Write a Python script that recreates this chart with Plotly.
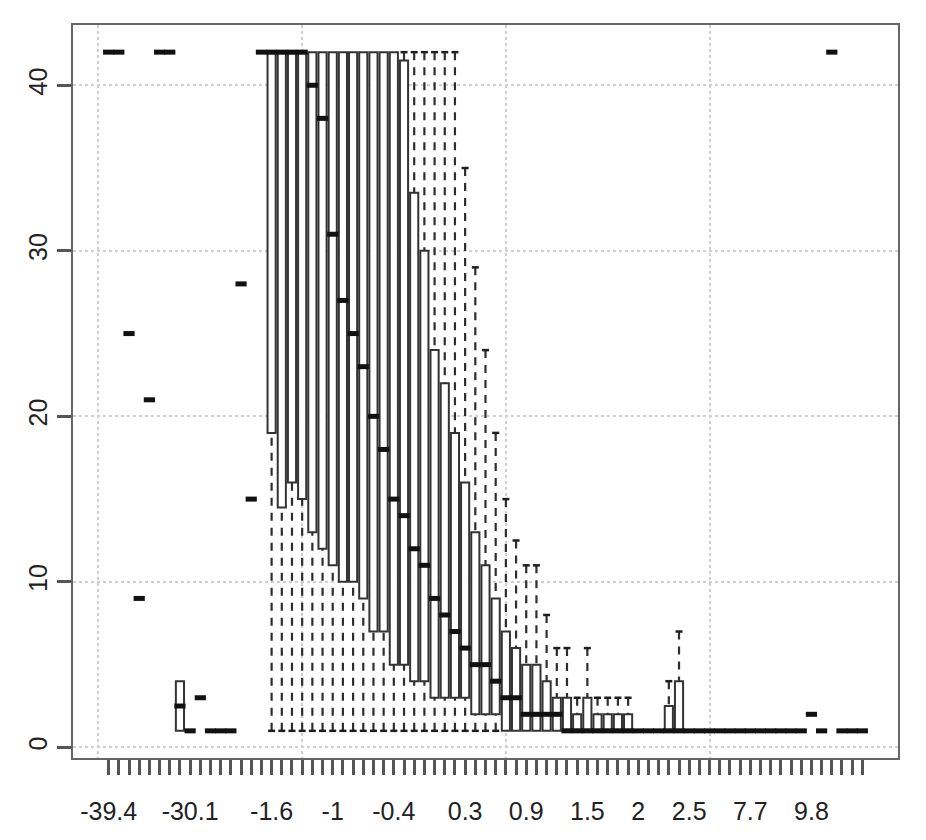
import plotly.graph_objects as go

# ---- data ----
categories = [-39.4, -38.6, -37.2, -36.5, -35.0, -33.8, -32.1, -31.4, -30.1, -27.9,
              -24.6, -19.3, -12.7, -7.5, -3.8, -2.2,
              -1.6, -1.5, -1.4, -1.3, -1.2, -1.1, -1.0, -0.9, -0.8, -0.7,
              -0.6, -0.5, -0.4, -0.3, -0.2, -0.1, 0.0, 0.1, 0.2, 0.3,
              0.4, 0.5, 0.6, 0.7, 0.8, 0.9, 1.0, 1.1, 1.2, 1.3,
              1.4, 1.5, 1.6, 1.7, 1.8, 1.9, 2.0, 2.1, 2.2, 2.3, 2.4, 2.5,
              2.7, 3.1, 3.6, 4.8, 6.2, 7.7, 8.1, 8.5, 8.9, 9.2, 9.5, 9.8,
              10.6, 11.9, 13.4, 15.2, 18.7]

shown_labels = ["-39.4", "-30.1", "-1.6", "-1", "-0.4", "0.3", "0.9",
                "1.5", "2", "2.5", "7.7", "9.8"]

lower = [42, 42, 25, 9, 21, 42, 42, 1, 1, 3, 1, 1, 1, 28, 15, 42,
         1, 1, 1, 1, 1, 1, 1, 1, 1, 1, 1, 1, 1, 1, 1, 1, 1, 1, 1, 1, 1,
         1, 1, 1, 1, 1, 1, 1, 1, 1, 1, 1, 1, 1, 1, 1, 1, 1, 1, 1, 1, 1,
         1, 1, 1, 1, 1, 1, 1, 1, 1, 1, 1, 2, 1, 42, 1, 1, 1]

q1 = [42, 42, 25, 9, 21, 42, 42, 1, 1, 3, 1, 1, 1, 28, 15, 42,
      19, 14.5, 16, 15, 13, 12, 11, 10, 10, 9, 7, 7, 5, 5, 4, 4, 3, 3, 3, 3,
      2, 2, 2, 1, 1, 1, 1, 1, 1, 1, 1, 1, 1, 1, 1, 1, 1, 1, 1, 1, 1, 1,
      1, 1, 1, 1, 1, 1, 1, 1, 1, 1, 1, 2, 1, 42, 1, 1, 1]

median = [42, 42, 25, 9, 21, 42, 42, 2.5, 1, 3, 1, 1, 1, 28, 15, 42,
          42, 42, 42, 42, 40, 38, 31, 27, 25, 23, 20, 18, 15, 14, 12, 11, 9, 8, 7, 6,
          5, 5, 4, 3, 3, 2, 2, 2, 2, 1, 1, 1, 1, 1, 1, 1, 1, 1, 1, 1, 1, 1,
          1, 1, 1, 1, 1, 1, 1, 1, 1, 1, 1, 2, 1, 42, 1, 1, 1]

q3 = [42, 42, 25, 9, 21, 42, 42, 4, 1, 3, 1, 1, 1, 28, 15, 42,
      42, 42, 42, 42, 42, 42, 42, 42, 42, 42, 42, 42, 42, 41.5, 33.5, 30, 24, 22, 19, 16,
      13, 11, 9, 7, 6, 5, 5, 4, 3, 3, 2, 3, 2, 2, 2, 2, 1, 1, 1, 2.5, 4, 1,
      1, 1, 1, 1, 1, 1, 1, 1, 1, 1, 1, 2, 1, 42, 1, 1, 1]

upper = [42, 42, 25, 9, 21, 42, 42, 4, 1, 3, 1, 1, 1, 28, 15, 42,
         42, 42, 42, 42, 42, 42, 42, 42, 42, 42, 42, 42, 42, 42, 42, 42, 42, 42, 42, 35,
         29, 24, 19, 15, 12.5, 11, 11, 8, 6, 6, 3, 6, 3, 3, 3, 3, 1, 1, 1, 4, 7, 1,
         1, 1, 1, 1, 1, 1, 1, 1, 1, 1, 1, 2, 1, 42, 1, 1, 1]

pos = list(range(1, len(categories) + 1))
tick_text = [f"{c:g}" if f"{c:g}" in shown_labels else "" for c in categories]
n = len(categories)

# whiskers (drawn from the extreme toward the box, like R)
wx, wy, sx, sy = [], [], [], []
for p, a, b in zip(pos, lower, q1):
    if a < b:
        wx += [p, p, None]
        wy += [a, b, None]
        sx.append(p)
        sy.append(a)
for p, a, b in zip(pos, upper, q3):
    if a > b:
        wx += [p, p, None]
        wy += [a, b, None]
        sx.append(p)
        sy.append(a)

fig = go.Figure()

fig.add_trace(go.Scatter(x=[], y=[], xaxis="x2", showlegend=False, hoverinfo="skip"))

fig.add_trace(go.Scatter(
    x=wx, y=wy, mode="lines",
    line=dict(color="#2e2e2e", width=2.2, dash="8px,7px"),
    showlegend=False, hoverinfo="skip"))

fig.add_trace(go.Scatter(
    x=sx, y=sy, mode="markers",
    marker=dict(symbol="line-ew", size=5, line=dict(color="#1e1e1e", width=2.5)),
    showlegend=False, hoverinfo="skip"))

fig.add_trace(go.Box(
    x=pos, q1=q1, median=median, q3=q3,
    lowerfence=q1, upperfence=q3,
    width=0.8, whiskerwidth=0, boxpoints=False,
    fillcolor="white", line=dict(color="#333333", width=2),
    showlegend=False, hoverinfo="skip"))

fig.add_trace(go.Scatter(
    x=pos, y=median, mode="markers",
    marker=dict(symbol="line-ew", size=8, line=dict(color="#111111", width=5)),
    showlegend=False, hoverinfo="skip"))

xr = [0.5 - 0.04 * n, n + 0.5 + 0.04 * n]
ymin, ymax = 1, 42
yr = [ymin - 0.04 * (ymax - ymin), ymax + 0.04 * (ymax - ymin)]

fig.update_layout(
    width=918, height=832,
    margin=dict(l=65, r=28, t=17, b=82),
    paper_bgcolor="white", plot_bgcolor="white",
    font=dict(family="Liberation Sans, Arial, sans-serif", size=25, color="#222222"),
    xaxis=dict(
        range=xr, tickmode="array", tickvals=pos, ticktext=tick_text,
        ticks="outside", ticklen=15, tickwidth=2.5, tickcolor="#555555",
        showgrid=False, zeroline=False,
        showline=True, mirror=True, linecolor="#666666", linewidth=2,
        tickfont=dict(size=25, color="#222222"), tickangle=0,
        ticklabelstandoff=15,
    ),
    xaxis2=dict(
        overlaying="x", anchor="y", range=xr,
        tickmode="array", tickvals=[0, 20, 40, 60],
        showgrid=True, gridcolor="#cfcfcf", griddash="dot", gridwidth=1.5,
        showticklabels=False, ticks="", showline=False, zeroline=False,
    ),
    yaxis=dict(
        range=yr, tickmode="array", tickvals=[0, 10, 20, 30, 40],
        ticks="outside", ticklen=14, tickwidth=2.5, tickcolor="#555555",
        showgrid=True, gridcolor="#cfcfcf", griddash="dot", gridwidth=1.5,
        zeroline=False,
        showline=True, mirror=True, linecolor="#666666", linewidth=2,
        tickangle=-90, tickfont=dict(size=25, color="#222222"),
    ),
)

fig.write_html("out.html")
